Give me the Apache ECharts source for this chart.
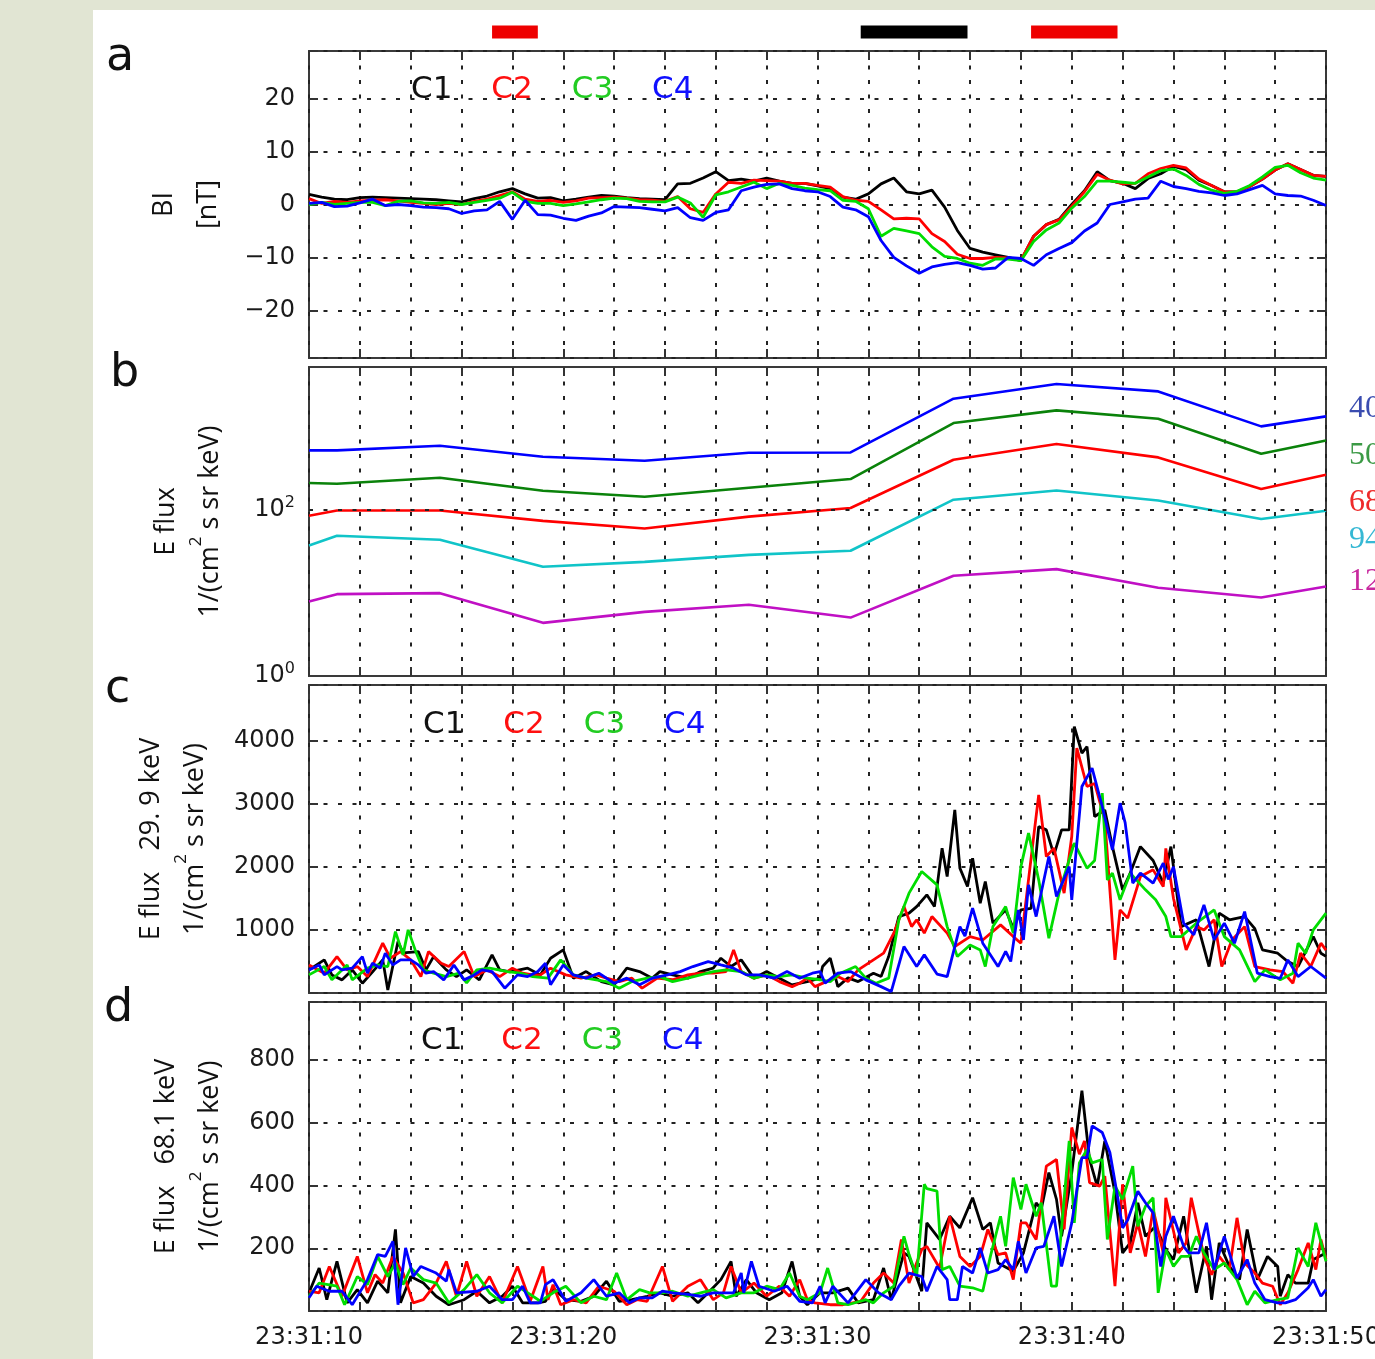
<!DOCTYPE html>
<html>
<head>
<meta charset="utf-8">
<title>|B| and energetic electron flux, C1-C4</title>
<script src="https://cdn.jsdelivr.net/npm/echarts@6/dist/echarts.min.js"></script>
<style>
html, body { margin: 0; padding: 0; background: #e1e5d3; }
#sheet { position: absolute; left: 93px; top: 10px; width: 1282px; height: 1349px; background: #fff; }
#chart { position: absolute; left: 0; top: 0; width: 1375px; height: 1359px; }
</style>
</head>
<body>
<div id="sheet"></div>
<div id="chart"></div>
<script>
// time is in seconds after 23:31:00
const tStart = 10, tEnd = 50;
const craft = ['C1', 'C2', 'C3', 'C4'];

// panel a: |B| [nT], one value every 0.5 s from 23:31:10
const tA = [];
for (let t = tStart; t <= tEnd; t += 0.5) tA.push(t);
const bC1 = [1.9,1.4,1.0,0.9,1.3,1.4,1.3,1.2,1.1,1.0,0.9,0.7,0.5,1.1,1.6,2.4,3.0,2.0,1.2,1.3,
  0.7,1.0,1.4,1.7,1.6,1.3,1.1,1.0,0.9,3.9,4.0,5.0,6.2,4.5,4.8,4.4,5.0,4.4,4.0,4.0,
  3.5,3.0,1.4,1.0,2.0,3.9,5.0,2.4,2.0,2.7,-0.5,-4.9,-8.3,-9.0,-9.5,-10.0,-10.6,-6.0,-3.8,-2.8,
  0.0,2.6,6.2,4.5,4.0,3.0,4.9,5.8,7.2,6.6,4.6,3.6,2.4,2.4,3.4,4.8,6.5,7.7,6.6,5.5,5.3];
const bC2 = [1.1,0.2,0.6,0.4,0.7,0.8,0.9,0.7,0.4,0.2,0.0,0.2,0.0,0.6,1.0,1.7,2.4,1.0,0.6,0.8,
  0.4,0.7,1.2,1.3,1.4,1.2,0.9,0.8,0.6,1.5,-0.8,-1.5,2.0,4.2,4.0,4.6,4.5,4.4,4.0,4.0,
  3.6,3.3,1.5,0.8,0.6,-1.0,-2.7,-2.6,-2.7,-5.5,-7.0,-9.4,-10.2,-10.2,-10.0,-10.1,-10.5,-6.0,-3.8,-2.9,
  -0.3,2.4,5.7,4.6,3.9,4.0,5.8,6.8,7.4,6.9,4.8,3.6,2.4,2.4,3.4,4.8,6.5,7.7,6.6,5.5,5.3];
const bC3 = [0.0,0.4,0.0,0.2,0.4,0.4,-0.2,0.6,0.7,0.3,0.2,0.4,0.0,0.4,0.8,1.2,2.3,0.6,0.2,0.2,
  -0.2,0.1,0.5,0.9,1.2,1.1,0.6,0.5,0.5,1.4,0.3,-2.4,1.8,2.4,3.3,4.2,3.0,4.0,3.6,3.1,
  2.8,2.6,0.8,0.6,-0.8,-6.0,-4.5,-5.0,-5.5,-8.0,-9.8,-10.2,-11.1,-11.5,-10.3,-10.3,-10.6,-7.0,-4.8,-3.5,
  -0.7,1.5,4.4,4.4,4.2,4.0,5.2,6.4,6.7,5.5,3.8,2.7,2.1,2.5,3.6,5.2,7.0,7.4,6.0,5.0,4.6];
const bC4 = [0.2,0.4,-0.4,-0.3,0.3,1.0,-0.2,0.0,-0.2,-0.5,-0.6,-0.8,-1.7,-1.2,-1.0,0.6,-2.8,0.8,-1.9,-2.0,
  -2.6,-3.0,-2.2,-1.6,-0.4,-0.5,-0.6,-0.9,-1.2,-0.6,-2.5,-3.0,-1.5,-1.0,2.6,3.3,3.8,3.9,3.0,2.6,
  2.4,1.5,-0.5,-1.0,-2.3,-6.8,-10.0,-11.6,-13.0,-11.8,-11.3,-11.0,-11.5,-12.2,-12.0,-10.0,-10.2,-11.5,-9.5,-8.3,
  -7.2,-5.0,-3.5,0.0,0.5,1.0,1.2,4.4,3.4,3.0,2.5,2.2,1.7,2.0,2.8,3.6,2.0,1.7,1.6,0.8,-0.2];

// panel b: energy channels (spin resolution)
const tB = [10, 11.1, 15.15, 19.2, 23.2, 27.3, 31.3, 35.35, 39.4, 43.4, 47.45, 50];
const energyLabels = ['40', '50', '68', '94', '12'];
const flux40 = [512, 512, 583, 430, 385, 479, 484, 2140, 3213, 2618, 995, 1312];
const flux50 = [208, 204, 240, 168, 142, 182, 232, 1091, 1549, 1230, 467, 675];
const flux68 = [84, 97, 97, 73, 59, 82, 104, 395, 611, 422, 176, 261];
const flux94 = [36.9, 48.3, 43.3, 20.5, 23.5, 28.5, 31.9, 131, 169, 128, 76.7, 96.4];
const flux127 = [7.83, 9.62, 9.89, 4.35, 5.89, 7.16, 5.03, 16.0, 19.2, 11.5, 8.75, 11.9];

// panel c: E flux 29.9 keV, [time, flux]
const e30C1 = [[10.0,366],[10.6,525],[10.9,287],[11.3,208],[11.7,366],[12.1,155],[12.5,335],[12.9,525],[13.1,49],[13.5,815],[13.7,635],[14.3,656],[14.6,366],[14.9,577],[15.4,366],[15.8,260],[16.2,366],[16.7,208],[17.2,604],[17.5,366],[17.9,335],[18.6,393],[19.1,287],[19.5,551],[20.0,683],[20.4,235],[20.9,339],[21.5,181],[22.0,128],[22.5,393],[23.0,339],[23.5,235],[23.8,339],[24.3,287],[24.9,235],[25.4,339],[25.9,393],[26.2,551],[26.6,420],[27.0,525],[27.5,235],[28.0,339],[28.5,235],[29.0,128],[29.6,181],[30.1,235],[30.2,419],[30.5,551],[30.8,101],[31.2,240],[31.6,181],[32.2,314],[32.5,260],[32.8,577],[33.2,1211],[33.6,1265],[33.9,1369],[34.3,1555],[34.6,1369],[34.9,2295],[35.1,1845],[35.4,2902],[35.6,1978],[35.9,1686],[36.1,2137],[36.4,1423],[36.6,1766],[36.9,1106],[37.4,1317],[37.7,1027],[38.0,1317],[38.4,1340],[38.7,2637],[39.0,2585],[39.3,2189],[39.6,2585],[39.9,2585],[40.1,4222],[40.4,3800],[40.6,3905],[40.9,2796],[41.3,2900],[41.6,2320],[42.0,1634],[42.3,1900],[42.7,2320],[43.2,2100],[43.6,1740],[43.9,2320],[44.3,1052],[44.9,1160],[45.4,419],[45.8,1265],[46.2,1160],[46.8,1211],[47.2,1020],[47.5,683],[48.1,630],[48.5,498],[48.9,420],[49.5,894],[49.8,630],[50.0,580]];
const e30C2 = [[10.0,445],[10.6,314],[11.1,577],[11.5,366],[11.9,419],[12.3,260],[12.9,789],[13.2,551],[13.6,656],[14.0,525],[14.4,260],[14.7,656],[15.2,472],[15.5,419],[16.1,656],[16.5,260],[17.0,366],[17.5,260],[18.0,393],[18.4,314],[18.8,287],[19.1,287],[19.5,393],[20.1,287],[20.7,235],[21.3,287],[21.7,235],[22.2,181],[22.7,235],[23.1,76],[23.7,235],[24.3,210],[24.9,287],[25.4,314],[25.9,314],[26.4,339],[26.7,683],[27.0,339],[27.5,235],[28.0,287],[28.5,181],[29.0,101],[29.3,155],[29.6,235],[29.9,101],[30.5,208],[30.8,260],[31.2,181],[31.6,366],[32.2,525],[32.6,631],[33.0,948],[33.4,1369],[33.7,1052],[33.9,1160],[34.2,948],[34.5,1211],[35.1,948],[35.4,735],[36.0,894],[36.5,840],[37.2,1079],[37.7,894],[38.0,789],[38.7,3140],[39.0,2162],[39.3,2295],[39.7,1582],[40.0,2479],[40.2,3880],[40.6,3272],[40.9,3320],[41.3,2744],[41.7,525],[41.9,1317],[42.2,1186],[42.7,1845],[43.2,1951],[43.6,1686],[43.7,2290],[44.0,1500],[44.5,683],[44.9,1052],[45.2,1000],[45.6,1159],[45.9,419],[46.3,840],[46.8,1052],[47.2,419],[47.8,366],[48.3,340],[48.7,155],[49.0,631],[49.4,420],[49.8,789],[50.0,680]];
const e30C3 = [[10.0,287],[10.6,419],[10.9,208],[11.5,445],[11.7,208],[12.3,393],[12.7,445],[13.1,419],[13.4,973],[13.7,604],[13.9,1000],[14.2,656],[14.5,366],[14.9,314],[15.4,260],[15.9,314],[16.2,160],[16.6,366],[17.1,393],[17.8,340],[18.3,314],[18.8,260],[19.4,235],[19.9,525],[20.4,287],[20.9,235],[21.7,181],[22.2,76],[22.7,181],[23.3,235],[23.8,260],[24.3,181],[24.9,235],[25.4,287],[25.9,339],[26.4,366],[27.0,339],[27.5,235],[28.0,287],[28.5,260],[29.0,287],[29.6,235],[30.1,210],[30.5,180],[30.9,314],[31.5,419],[31.9,235],[32.3,155],[32.8,235],[33.2,1159],[33.6,1582],[34.1,1924],[34.7,1713],[35.1,1052],[35.5,577],[36.0,762],[36.4,683],[36.6,419],[36.9,1052],[37.4,1369],[37.7,950],[38.0,2003],[38.3,2533],[38.7,1793],[39.1,869],[39.5,1582],[40.1,2374],[40.6,1978],[40.9,2100],[41.2,3167],[41.4,1793],[41.6,1900],[41.9,1476],[42.3,1899],[42.9,1634],[43.3,1476],[43.7,1211],[43.9,894],[44.3,894],[44.9,1106],[45.6,1317],[46.0,894],[46.6,683],[47.2,181],[47.6,366],[48.2,208],[48.7,314],[48.9,789],[49.2,630],[49.5,1000],[50.0,1265]];
const e30C4 = [[10.0,366],[10.4,445],[10.6,287],[11.1,419],[11.3,366],[11.7,393],[12.1,577],[12.3,314],[12.5,472],[12.8,393],[13.0,631],[13.3,445],[13.6,525],[14.0,525],[14.3,445],[14.6,314],[14.9,340],[15.3,208],[15.7,445],[16.1,208],[16.5,287],[16.8,366],[17.2,340],[17.7,76],[18.2,287],[18.6,260],[19.0,340],[19.3,472],[19.5,130],[20.0,445],[20.4,287],[20.9,235],[21.4,314],[22.0,155],[22.5,235],[23.0,130],[23.5,235],[24.1,287],[24.6,339],[25.1,419],[25.7,498],[26.2,445],[26.7,393],[27.2,287],[27.7,287],[28.3,235],[28.8,339],[29.3,235],[29.8,314],[30.1,339],[30.3,155],[30.8,314],[31.3,339],[31.9,208],[32.5,101],[32.9,22],[33.4,735],[33.9,419],[34.2,604],[34.7,300],[35.1,260],[35.6,1052],[35.8,900],[36.1,1344],[36.5,789],[37.1,419],[37.4,660],[37.6,500],[37.9,1317],[38.1,840],[38.3,1713],[38.6,1211],[39.1,2162],[39.4,1528],[39.9,2003],[40.0,1476],[40.4,3272],[40.8,3563],[41.2,2955],[41.6,2268],[41.9,3008],[42.1,2700],[42.4,1740],[42.7,1899],[43.2,1740],[43.6,2057],[43.8,1800],[44.0,2000],[44.4,1106],[44.8,921],[45.2,1396],[45.6,842],[46.0,1106],[46.4,789],[46.8,1290],[47.3,314],[47.8,260],[48.2,230],[48.5,525],[48.9,260],[49.4,420],[50.0,235]];

// panel d: E flux 68.1 keV, [time, flux]
const e68C1 = [[10.0,58],[10.4,137],[10.7,36],[11.1,158],[11.5,26],[11.9,68],[12.3,26],[12.7,95],[13.1,58],[13.4,260],[13.6,26],[14.0,110],[14.5,89],[15.0,47],[15.5,20],[16.1,36],[16.6,63],[17.1,26],[17.6,47],[18.0,79],[18.4,26],[19.0,26],[19.3,31],[19.6,73],[20.1,36],[20.7,31],[21.2,47],[21.7,95],[22.2,31],[22.7,36],[23.3,47],[23.8,58],[24.3,47],[24.9,58],[25.3,26],[25.7,58],[26.2,100],[26.6,158],[26.8,47],[27.2,100],[27.6,58],[28.1,36],[28.6,58],[29.0,158],[29.3,47],[29.6,20],[30.1,58],[30.6,58],[31.2,73],[31.6,26],[32.2,36],[32.6,137],[32.9,36],[33.4,185],[33.6,174],[34.1,63],[34.3,281],[34.8,228],[35.2,302],[35.6,265],[36.1,361],[36.5,260],[36.8,281],[37.1,153],[37.7,127],[38.1,185],[38.6,345],[38.8,324],[39.1,441],[39.4,356],[39.6,238],[40.0,441],[40.4,702],[40.7,483],[41.0,398],[41.3,542],[41.7,377],[42.0,185],[42.3,217],[42.6,345],[42.9,238],[43.3,270],[43.7,196],[44.0,164],[44.4,302],[44.9,58],[45.3,206],[45.5,36],[45.8,217],[46.2,142],[46.6,100],[46.9,260],[47.3,100],[47.7,174],[48.1,142],[48.2,47],[48.5,116],[48.8,89],[49.3,89],[49.5,164],[50.0,185]];
const e68C2 = [[10.0,63],[10.4,58],[10.8,142],[11.3,47],[11.9,174],[12.3,58],[12.6,116],[12.9,89],[13.3,174],[13.7,121],[14.1,26],[14.5,36],[15.0,89],[15.4,158],[15.8,47],[16.2,158],[16.6,47],[17.1,110],[17.6,26],[18.2,142],[18.7,31],[19.2,142],[19.4,36],[19.6,84],[19.9,20],[20.4,36],[20.9,26],[21.4,79],[22.0,63],[22.5,20],[22.9,36],[23.3,31],[23.9,142],[24.3,31],[24.9,79],[25.4,100],[25.9,36],[26.3,58],[26.6,142],[27.0,58],[27.5,89],[28.0,47],[28.5,79],[28.9,47],[29.3,100],[29.6,36],[29.9,26],[30.5,20],[31.0,20],[31.7,31],[32.2,89],[32.6,121],[33.0,89],[33.3,228],[33.6,89],[34.1,196],[34.3,206],[34.8,137],[35.2,302],[35.6,174],[36.0,142],[36.4,174],[36.7,260],[37.1,180],[37.4,185],[37.7,100],[38.0,281],[38.2,281],[38.6,228],[39.0,462],[39.4,483],[39.7,260],[40.0,585],[40.3,500],[40.5,542],[40.7,409],[41.1,398],[41.3,430],[41.7,79],[42.0,404],[42.3,185],[42.6,281],[42.9,174],[43.2,324],[43.6,185],[43.7,361],[44.2,185],[44.5,217],[44.7,361],[45.2,174],[45.5,116],[45.8,174],[46.2,132],[46.5,297],[46.8,153],[47.2,121],[47.5,89],[47.9,79],[48.2,20],[48.5,58],[48.9,132],[49.3,217],[49.6,132],[49.8,228],[50.0,164]];
const e68C3 = [[10.0,47],[10.4,89],[11.1,79],[11.4,20],[11.9,110],[12.3,84],[12.7,174],[13.1,110],[13.4,153],[13.7,84],[14.0,137],[14.5,100],[15.0,89],[15.5,26],[16.1,68],[16.6,116],[17.1,58],[17.6,26],[18.2,79],[18.7,53],[19.1,31],[19.6,58],[20.1,79],[20.7,26],[21.2,47],[21.7,36],[22.1,121],[22.5,36],[23.0,68],[23.4,58],[23.9,58],[24.3,63],[24.9,47],[25.4,58],[25.9,68],[26.4,42],[27.0,58],[27.5,58],[28.0,79],[28.5,68],[28.9,121],[29.3,47],[29.6,36],[30.1,58],[30.4,137],[30.8,26],[31.2,20],[31.9,36],[32.2,26],[32.6,58],[33.0,79],[33.4,238],[33.6,180],[33.9,110],[34.2,404],[34.3,390],[34.7,382],[34.9,132],[35.2,142],[35.6,79],[36.1,74],[36.5,63],[36.8,174],[37.2,302],[37.4,206],[37.7,425],[38.0,324],[38.2,404],[38.6,302],[38.8,345],[39.2,79],[39.4,79],[39.9,542],[40.1,281],[40.3,472],[40.6,515],[40.8,472],[41.2,483],[41.4,228],[41.7,398],[42.0,356],[42.4,462],[42.6,270],[42.9,334],[43.2,361],[43.4,58],[43.7,196],[44.0,142],[44.3,174],[44.6,174],[44.9,238],[45.2,185],[45.6,132],[46.0,153],[46.5,100],[46.9,20],[47.2,63],[47.6,26],[48.1,36],[48.5,42],[48.9,201],[49.3,142],[49.6,281],[50.0,158]];
const e68C4 = [[10.0,42],[10.3,79],[10.8,63],[11.3,63],[11.7,20],[12.3,100],[12.7,180],[13.0,174],[13.3,222],[13.5,20],[13.8,201],[14.1,110],[14.4,142],[15.0,121],[15.4,95],[15.5,132],[15.8,58],[16.6,63],[17.1,79],[17.6,36],[18.0,36],[18.4,79],[18.7,26],[19.1,26],[19.3,84],[19.6,100],[20.1,31],[20.7,58],[21.2,100],[21.7,47],[22.2,58],[22.6,26],[23.0,42],[23.5,42],[23.9,63],[24.3,58],[24.9,53],[25.4,47],[25.9,58],[26.3,58],[26.7,58],[27.0,121],[27.1,58],[27.4,158],[27.7,79],[28.3,63],[28.8,79],[29.3,31],[29.8,26],[30.1,79],[30.3,26],[30.6,79],[31.2,26],[31.9,100],[32.4,58],[32.9,36],[33.2,79],[33.6,121],[34.1,110],[34.3,63],[34.7,142],[35.1,100],[35.2,36],[35.5,36],[35.7,142],[36.1,121],[36.4,201],[36.7,121],[37.1,132],[37.4,164],[37.7,132],[37.9,222],[38.2,121],[38.6,201],[38.9,206],[39.3,302],[39.6,142],[40.0,281],[40.4,489],[40.6,489],[40.8,590],[41.2,569],[41.5,505],[41.8,366],[42.0,265],[42.2,290],[42.6,382],[42.9,345],[43.2,313],[43.5,142],[43.7,238],[44.0,302],[44.4,206],[44.6,185],[45.0,185],[45.3,281],[45.6,132],[46.0,238],[46.5,105],[46.9,164],[47.2,89],[47.6,36],[48.1,26],[48.4,26],[48.8,36],[49.3,74],[49.5,100],[49.8,47],[50.0,68]];

// marked intervals above panel a [start, end]
const intervals = [[17.2, 19.0], [31.7, 35.9], [38.4, 41.8]];

const craftColors = ['#000000', '#ff0000', '#00dd00', '#0000ff'];
const legendColors = ['#111111', '#ff1010', '#22cc22', '#1010ff'];
const energyColors = ['#0000ff', '#0a820a', '#ff0000', '#10c4c8', '#c010c4'];
const energyTextColors = ['#3a4cb0', '#3c9a46', '#ee2a2a', '#36b8d4', '#c8289e'];
const intervalColors = ['#ee0000', '#000000', '#ee0000'];

const chart = echarts.init(document.getElementById('chart'));

const dotted = { color: '#222', width: 2, type: [4, 10.5] };
const tickLine = { color: '#333', width: 2 };
const tickFont = { fontFamily: 'DejaVu Sans', fontSize: 24, color: '#1a1a1a' };
const nameRich = {
  t: { fontFamily: 'Open Sans', fontSize: 27, lineHeight: 44, color: '#111' },
  s: { fontFamily: 'Open Sans', fontSize: 17, lineHeight: 20, verticalAlign: 'top', color: '#111' }
};

const grids = [
  { top: 51, height: 307 },
  { top: 367, height: 309 },
  { top: 685, height: 308 },
  { top: 1002, height: 309 }
].map(g => Object.assign({
  left: 309, right: 49, show: true, borderColor: '#3a3a3a', borderWidth: 2,
  backgroundColor: 'transparent', outerBoundsMode: 'none'
}, g));
grids.push({ left: 309, right: 49, top: 25, height: 14, show: false, outerBoundsMode: 'none' });

function timeAxis(gi, position, labels) {
  return {
    type: 'value', gridIndex: gi, position: position, min: tStart, max: tEnd, interval: 2,
    axisLine: { show: false, onZero: false },
    axisTick: { show: true, inside: true, length: 9, lineStyle: tickLine },
    axisLabel: {
      show: labels, margin: 15, ...tickFont,
      formatter: v => (v % 10 === 0 ? '23:31:' + v : '')
    },
    splitLine: { show: position === 'bottom', lineStyle: dotted }
  };
}

// x axes: 0-3 bottom of panels a-d, 4-7 top of panels a-d, 8 interval strip
const xAxes = [];
for (let i = 0; i < 4; i++) xAxes.push(timeAxis(i, 'bottom', i === 3));
for (let i = 0; i < 4; i++) xAxes.push(timeAxis(i, 'top', false));
xAxes.push({ type: 'value', gridIndex: 4, min: tStart, max: tEnd, show: false });

const yLeft = [
  {
    min: -29, max: 29, splitNumber: 6, name: '{t|BI}\n{t|[nT]}', nameGap: 79,
    formatter: v => (Math.abs(v % 10) < 1e-9 ? String(v).replace('-', '\u2212') : '')
  },
  null,
  {
    min: 0, max: 4880, interval: 1000, nameGap: 92,
    name: '{t|E flux   29. 9 keV}\n{t|1/(cm}{s|2}{t| s sr keV)}',
    formatter: v => (v > 0 && v % 1000 === 0 ? String(v) : '')
  },
  {
    min: 0, max: 985, interval: 200, nameGap: 77,
    name: '{t|E flux   68.1 keV}\n{t|1/(cm}{s|2}{t| s sr keV)}',
    formatter: v => (v > 0 && v % 200 === 0 ? String(v) : '')
  }
];

// y axes: 0-3 left of panels a-d, 4-7 right of panels a-d, 8 interval strip
const yAxes = [];
yLeft.forEach((c, i) => {
  if (i === 1) {
    yAxes.push({
      type: 'log', logBase: 10, gridIndex: 1, min: 1, max: 5140,
      name: '{t|E flux}\n{t|1/(cm}{s|2}{t| s sr keV)}', nameLocation: 'middle', nameRotate: 90,
      nameGap: 77, nameTextStyle: { rich: nameRich },
      axisLine: { show: false, onZero: false }, axisTick: { show: false },
      axisLabel: {
        margin: 14,
        formatter: v => {
          const e = Math.log10(v);
          if (Math.abs(e) < 1e-6) return '{b|10}{s|0}';
          if (Math.abs(e - 2) < 1e-6) return '{b|10}{s|2}';
          return '';
        },
        rich: {
          b: { fontFamily: 'DejaVu Sans', fontSize: 24, lineHeight: 30, color: '#1a1a1a' },
          s: { fontFamily: 'DejaVu Sans', fontSize: 16, lineHeight: 16, verticalAlign: 'top', color: '#1a1a1a' }
        }
      },
      splitLine: { show: false }
    });
    return;
  }
  yAxes.push({
    type: 'value', gridIndex: i, min: c.min, max: c.max, interval: c.interval, splitNumber: c.splitNumber,
    name: c.name, nameLocation: 'middle', nameRotate: 90, nameGap: c.nameGap,
    nameTextStyle: { rich: nameRich },
    axisLine: { show: false, onZero: false },
    axisTick: { show: true, inside: true, length: 9, lineStyle: tickLine },
    axisLabel: { margin: 14, ...tickFont, formatter: c.formatter },
    splitLine: { show: true, lineStyle: dotted }
  });
});
yLeft.forEach((c, i) => {
  if (i === 1) {
    yAxes.push({ type: 'log', logBase: 10, gridIndex: 1, position: 'right', min: 1, max: 5140, show: false });
    return;
  }
  yAxes.push({
    type: 'value', gridIndex: i, position: 'right', min: c.min, max: c.max,
    interval: c.interval, splitNumber: c.splitNumber,
    axisLine: { show: false, onZero: false },
    axisTick: { show: true, inside: true, length: 9, lineStyle: tickLine },
    axisLabel: { show: false }, splitLine: { show: false }
  });
});
yAxes.push({ type: 'value', gridIndex: 4, min: -1, max: 1, show: false });

const series = [];
function addLine(name, axisIndex, data, color, width) {
  series.push({
    type: 'line', name: name, xAxisIndex: axisIndex, yAxisIndex: axisIndex, data: data,
    symbol: 'none', showSymbol: false, silent: true,
    lineStyle: { color: color, width: width }, itemStyle: { color: color }
  });
}

[bC1, bC2, bC3, bC4].forEach((arr, i) => addLine(craft[i], 0, arr.map((v, k) => [tA[k], v]), craftColors[i], 2.8));
[flux40, flux50, flux68, flux94, flux127].forEach((arr, i) => addLine(energyLabels[i], 1, arr.map((v, k) => [tB[k], v]), energyColors[i], 2.6));
series[4].markLine = {
  silent: true, symbol: 'none', label: { show: false },
  lineStyle: dotted, data: [{ yAxis: 100 }]
};
[e30C1, e30C2, e30C3, e30C4].forEach((arr, i) => addLine(craft[i], 2, arr, craftColors[i], 2.8));
[e68C1, e68C2, e68C3, e68C4].forEach((arr, i) => addLine(craft[i], 3, arr, craftColors[i], 2.8));
intervals.forEach((iv, i) => addLine('interval' + i, 8, [[iv[0], 0], [iv[1], 0]], intervalColors[i], 13));

function craftLegend(left, top) {
  return {
    left: left, top: top, orient: 'horizontal', icon: 'none', itemWidth: 0, itemHeight: 14,
    itemGap: 34, padding: 0, selectedMode: false,
    textStyle: { fontFamily: 'DejaVu Sans', fontSize: 31 },
    data: craft.map((n, i) => ({ name: n, textStyle: { color: legendColors[i] } }))
  };
}

const letterStyle = { fontFamily: 'DejaVu Sans', fontSize: 46, fill: '#111', verticalAlign: 'middle' };
const energyY = [409, 456, 503, 540, 582];

chart.setOption({
  animation: false,
  grid: grids,
  xAxis: xAxes,
  yAxis: yAxes,
  series: series,
  legend: [craftLegend(406, 74), craftLegend(418, 709), craftLegend(416, 1025)],
  graphic: [
    { type: 'text', x: 106, y: 58, style: Object.assign({ text: 'a' }, letterStyle) },
    { type: 'text', x: 110, y: 374, style: Object.assign({ text: 'b' }, letterStyle) },
    { type: 'text', x: 105, y: 690, style: Object.assign({ text: 'c' }, letterStyle) },
    { type: 'text', x: 104, y: 1009, style: Object.assign({ text: 'd' }, letterStyle) }
  ].concat(energyLabels.map((t, i) => ({
    type: 'text', x: 1349, y: energyY[i],
    style: { text: t, fontFamily: 'Liberation Serif', fontSize: 32, fill: energyTextColors[i], verticalAlign: 'middle' }
  })))
});
</script>
</body>
</html>
